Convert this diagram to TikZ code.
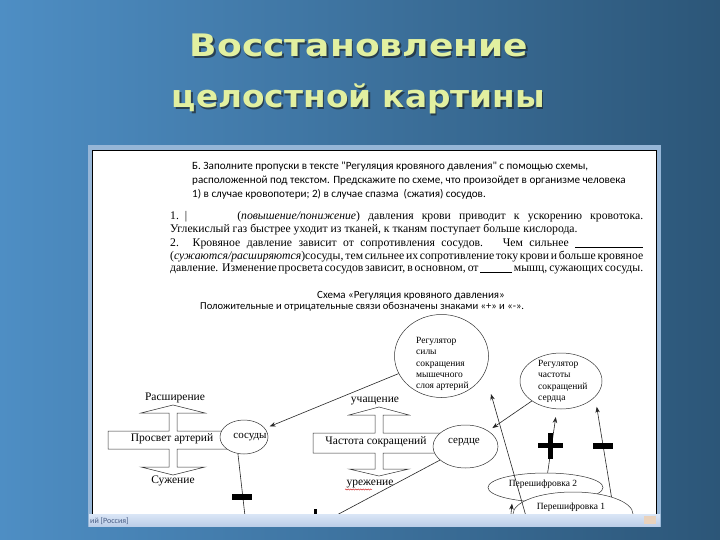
\documentclass[tikz,border=0pt]{standalone}
\usepackage{fontspec}
\usepackage{graphicx}
\setmainfont{Liberation Serif}
\newfontfamily\calfont{Carlito}
\newfontfamily\ttlfont{DejaVu Sans}
\usetikzlibrary{arrows.meta,shapes.geometric,decorations.pathmorphing}
\definecolor{bgL}{RGB}{78,142,196}
\definecolor{bgR}{RGB}{44,86,120}
\definecolor{ttlc}{RGB}{226,240,160}
\definecolor{ttlsh}{RGB}{30,40,45}
\definecolor{winb}{RGB}{150,182,215}
\definecolor{statT}{RGB}{218,230,246}
\definecolor{statB}{RGB}{188,206,232}
\definecolor{stattxt}{RGB}{70,90,130}
\newcommand{\jline}[2]{\hbox to #1{\spaceskip=0.28em plus 1fil minus 0.2em\relax #2}}
\tikzset{
  ttl/.style={inner sep=0pt, anchor=base, text=ttlc, font=\ttlfont\bfseries\fontsize{31}{31}\selectfont},
  ttlshadow/.style={ttl, text=ttlsh, opacity=0.7},
  itxt/.style={inner sep=0pt, anchor=base west, font=\calfont\fontsize{11.1}{13}\selectfont},
  ptxt/.style={inner sep=0pt, anchor=base west, font=\fontsize{11.7}{13}\selectfont},
  stxt/.style={inner sep=0pt, anchor=base, font=\calfont\fontsize{11}{13}\selectfont},
  dlab/.style={inner sep=0pt, font=\fontsize{11.5}{13}\selectfont},
  elab/.style={inner sep=0pt, anchor=north west, align=left, font=\fontsize{9.5}{11.3}\selectfont},
  shp/.style={draw=black!80, line width=0.5pt, fill=white},
  ell/.style={ellipse, draw=black!80, line width=0.5pt, fill=white, inner sep=0pt},
  conn/.style={draw=black!85, line width=0.6pt},
  arr/.style={conn, -{Stealth[length=6pt,width=4.5pt]}, shorten >=5pt},
}
\begin{document}
\begin{tikzpicture}[x=1pt,y=-1pt]
\useasboundingbox (0,0) rectangle (720,540);
\shade[left color=bgL, right color=bgR] (0,0) rectangle (720,540);
% title
\node[ttlshadow] (t1s) at (360.5,58.5) {\resizebox{338pt}{\height}{Восстановление}};
\node[ttl] (t1) at (359,57) {\resizebox{338pt}{\height}{Восстановление}};
\node[ttlshadow] (t2s) at (360,109.5) {\resizebox{373pt}{\height}{целостной картины}};
\node[ttl] (t2) at (358.5,108) {\resizebox{373pt}{\height}{целостной картины}};
% window
\fill[winb] (88,145) rectangle (661,527);
\fill[white] (92,150) rectangle (656,514);
\draw[black, line width=0.8pt] (92,150) rectangle (656,514);
\shade[top color=statT, bottom color=statB] (89,514) rectangle (660,526);
\node[inner sep=0pt, anchor=base west, text=stattxt, font=\calfont\fontsize{8}{9}\selectfont] (st) at (90,523) {ий [Россия]};
\fill[brown!35!white] (644,516) rectangle (656,524);
% instruction text
\node[itxt] (i1) at (192,170) {Б. Заполните пропуски в тексте "Регуляция кровяного давления" с помощью схемы,};
\node[itxt] (i2) at (192,184) {расположенной под текстом. Предскажите по схеме, что произойдет в организме человека};
\node[itxt] (i3) at (192,198) {1) в случае кровопотери; 2) в случае спазма \ (сжатия) сосудов.};
% paragraph
\node[ptxt] (p1) at (170,220) {\jline{473pt}{1.\hspace{6pt}|\hspace{50pt}(\textit{повышение/понижение}) давления крови приводит к ускорению кровотока.}};
\node[ptxt] (p2) at (170,233) {Углекислый газ быстрее уходит из тканей, к тканям поступает больше кислорода.};
\node[ptxt] (p3) at (170,246) {\jline{473pt}{2. Кровяное давление зависит от сопротивления сосудов.\hspace{6pt} Чем сильнее \rule[-1pt]{68pt}{0.4pt}}};
\node[ptxt] (p4) at (170,259) {\jline{473pt}{(\textit{сужаются/расширяются})сосуды, тем сильнее их сопротивление току крови и больше кровяное}};
\node[ptxt] (p5) at (170,271) {\jline{473pt}{давление. Изменение просвета сосудов зависит, в основном, от \rule[-1pt]{32pt}{0.4pt} мышц, сужающих сосуды.}};
% schema title
\node[stxt] (s1) at (411,298) {Схема «Регуляция кровяного давления»};
\node[stxt, anchor=base west, font=\calfont\fontsize{10.6}{12}\selectfont] (s2) at (200,309) {Положительные и отрицательные связи обозначены знаками «+» и «-».};
% diagram
\begin{scope}
\clip (93,151) rectangle (655,513);
% left cross
\draw[shp] (108,431) -- (169,431) -- (169,413) -- (141,413) -- (173,405) -- (205,413) -- (177,413) -- (177,431) -- (228,431) -- (228,449) -- (177,449) -- (177,467) -- (205,467) -- (173,475) -- (141,467) -- (169,467) -- (169,449) -- (108,449) -- cycle;
% middle cross
\draw[shp] (313,433) -- (375,433) -- (375,415) -- (349,415) -- (379,407) -- (409,415) -- (383,415) -- (383,433) -- (442,433) -- (442,453) -- (383,453) -- (383,469) -- (409,469) -- (379,476) -- (349,469) -- (375,469) -- (375,453) -- (313,453) -- cycle;
% ellipses
\node[ell, minimum width=48pt, minimum height=34pt] (sosudy) at (244,437) {};
\node[ell, minimum width=65pt, minimum height=43pt] (serdce) at (465.5,446.5) {};
\node[ell, minimum width=94pt, minimum height=83pt] (reg1) at (441.5,356) {};
\node[ell, minimum width=82pt, minimum height=56pt] (reg2) at (561,381) {};
\node[ell, minimum width=115pt, minimum height=29pt] (per2) at (545.5,487.5) {};
\node[ell, minimum width=120pt, minimum height=44pt] (per1) at (573,514) {};
% labels
\node[dlab] (lr) at (175,398) {Расширение};
\node[dlab] (lp) at (172,439) {Просвет артерий};
\node[dlab] (ls) at (173,481) {Сужение};
\node[dlab, font=\fontsize{11}{13}\selectfont] (lsos) at (250,437) {сосуды};
\node[dlab] (lu) at (375,401) {учащение};
\node[dlab] (lch) at (376,442) {Частота сокращений};
\node[dlab] (lur) at (370,484) {урежение};
\draw[red!80!black, line width=0.4pt, decorate, decoration={snake, amplitude=0.6pt, segment length=2.5pt}] (345,489.5) -- (372,489.5);
\node[dlab, font=\fontsize{11}{13}\selectfont] (lser) at (464,442) {сердце};
\node[elab] (reg1t) at (416,337) {Регулятор\\силы\\сокращения\\мышечного\\слоя артерий};
\node[elab] (reg2t) at (538,360) {Регулятор\\частоты\\сокращений\\сердца};
\node[dlab, font=\fontsize{9.5}{11}\selectfont] (per2t) at (543,484) {Перешифровка 2};
\node[dlab, font=\fontsize{9.5}{11}\selectfont] (per1t) at (571,507) {Перешифровка 1};
% connectors
\coordinate (c1) at (318,525);
\coordinate (c2) at (246,525);
\coordinate (c3) at (528.5,525);
\coordinate (r1tip) at (491,394);
\coordinate (c4) at (510,525);
\draw[arr] (reg1) -- (sosudy);
\draw[arr] (reg2) -- (serdce);
\draw[conn] (serdce) -- (c1);
\draw[conn] (sosudy.250) -- (c2);
\draw[arr, shorten >=0pt] (c3) -- (r1tip);
\draw[arr, shorten >=8pt] (per2) -- (reg2);
\draw[arr, shorten >=10pt] (per1.24) -- (reg2.-25);
\draw[arr, shorten >=4pt] (c4) -- (per2.200);
% signs
\fill[black] (232,494) rectangle (252,500);
\fill[black] (313.5,509) rectangle (316.5,515);
\fill[black] (538,443) rectangle (563,448);
\fill[black] (548,433) rectangle (553,459);
\fill[black] (593,443) rectangle (613,449);
\end{scope}
\end{tikzpicture}
\end{document}
